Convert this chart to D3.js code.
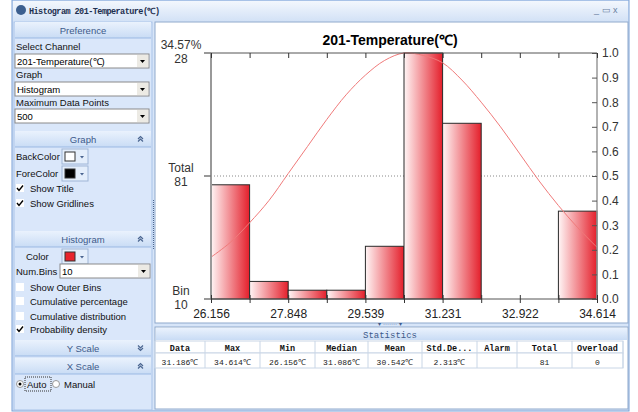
<!DOCTYPE html>
<html>
<head>
<meta charset="utf-8">
<script src="https://d3js.org/d3.v7.min.js"></script>
<style>
  body { margin: 0; background: #fff; }
  text { font-family: "Liberation Sans", Arial, sans-serif; }
</style>
</head>
<body>
<svg id="win" width="638" height="412"></svg>
<script>
// ---- data ----
const xMin = 26.156, xMax = 34.614;
const numBins = 10;
const xTickLabels = ['26.156', '27.848', '29.539', '31.231', '32.922', '34.614'];
const binCounts = [13, 2, 1, 1, 6, 28, 20, 0, 0, 10];
const maxCount = 28;
// probability density curve, normalised, sampled every half bin
const curveValues = [0.17, 0.23, 0.31, 0.40, 0.51, 0.62, 0.73, 0.83, 0.91, 0.97, 1.00,
                     0.99, 0.96, 0.89, 0.80, 0.70, 0.59, 0.48, 0.38, 0.29, 0.21];
const leftLabels = [
  { v: 0, top: 'Bin', bottom: '10' },
  { v: 0.5, top: 'Total', bottom: '81' },
  { v: 1, top: '34.57%', bottom: '28' }
];
const statHeaders = ['Data', 'Max', 'Min', 'Median', 'Mean', 'Std.De...', 'Alarm', 'Total', 'Overload'];
const statValues = ['31.186℃', '34.614℃', '26.156℃', '31.086℃', '30.542℃', '2.313℃', '', '81', '0'];

const svg = d3.select('#win');

// ---- window chrome ----
const defs = svg.append('defs');
function vGrad(id, c1, c2) {
  const g = defs.append('linearGradient').attr('id', id)
    .attr('x1', 0).attr('y1', 0).attr('x2', 0).attr('y2', 1);
  g.append('stop').attr('offset', '0%').attr('stop-color', c1);
  g.append('stop').attr('offset', '100%').attr('stop-color', c2);
}
vGrad('titleG', '#f3f7fd', '#d3e2f6');
vGrad('headG', '#eaf2fd', '#c9dcf5');
const barG = defs.append('linearGradient').attr('id', 'barG');
barG.append('stop').attr('offset', '0%').attr('stop-color', '#fff6f6');
barG.append('stop').attr('offset', '100%').attr('stop-color', '#e41f2b');

svg.append('rect').attr('x', 12).attr('y', 0).attr('width', 617).attr('height', 411)
  .attr('fill', '#d7e5f8').attr('stroke', '#7aa0d6');
svg.append('rect').attr('x', 13).attr('y', 1).attr('width', 615).attr('height', 20)
  .attr('fill', 'url(#titleG)');
svg.append('circle').attr('cx', 21).attr('cy', 10).attr('r', 5).attr('fill', '#3c5f8f');
svg.append('text').attr('x', 29).attr('y', 13.5)
  .style('font-family', '"Liberation Mono", monospace').style('font-weight', 'bold')
  .style('font-size', '8.5px').attr('fill', '#1e3050').attr('textLength', 131)
  .text('Histogram 201-Temperature(℃)');
svg.append('text').attr('x', 594).attr('y', 13).style('font-size', '9px').attr('fill', '#6a7f9f')
  .text('_   ▭   x');

// left panel
const panel = svg.append('g');
panel.append('rect').attr('x', 14).attr('y', 22).attr('width', 138).attr('height', 388)
  .attr('fill', '#dae7fa').attr('stroke', '#a9c3e8');

function header(y, label, up) {
  panel.append('rect').attr('x', 15).attr('y', y).attr('width', 136).attr('height', 16)
    .attr('fill', 'url(#headG)');
  panel.append('line').attr('x1', 15).attr('x2', 151).attr('y1', y + 16).attr('y2', y + 16)
    .attr('stroke', '#9bb9e3');
  panel.append('text').attr('x', 83).attr('y', y + 11.5).attr('text-anchor', 'middle')
    .style('font-size', '9.5px').attr('fill', '#3d5a8a').text(label);
  if (up !== undefined) {
    const cy = y + 8, s = up ? -1 : 1;
    panel.append('path')
      .attr('d', `M138,${cy - s * 2.5}l2.5,${s * 2.5}l2.5,${-s * 2.5}M138,${cy}l2.5,${s * 2.5}l2.5,${-s * 2.5}`)
      .attr('fill', 'none').attr('stroke', '#4a6590').attr('stroke-width', 1.2);
  }
}
function label(x, y, t) {
  panel.append('text').attr('x', x).attr('y', y + 3.5).style('font-size', '9.5px')
    .attr('fill', '#111').text(t);
}
function combo(x, y, w, t) {
  panel.append('rect').attr('x', x).attr('y', y).attr('width', w).attr('height', 14)
    .attr('fill', '#fff').attr('stroke', '#8a8a8a');
  panel.append('rect').attr('x', x + w - 12).attr('y', y + 1).attr('width', 11).attr('height', 12)
    .attr('fill', '#eceae4');
  panel.append('path').attr('d', `M${x + w - 9},${y + 6}h5l-2.5,3z`).attr('fill', '#000');
  panel.append('text').attr('x', x + 2).attr('y', y + 10.5).style('font-size', '9.5px')
    .attr('fill', '#000').text(t);
}
function colorBtn(y, c) {
  panel.append('rect').attr('x', 62).attr('y', y).attr('width', 26).attr('height', 15)
    .attr('fill', '#e4eefb').attr('stroke', '#9fb6d6');
  panel.append('rect').attr('x', 65).attr('y', y + 3).attr('width', 10).attr('height', 9)
    .attr('fill', c).attr('stroke', '#333');
  panel.append('path').attr('d', `M80,${y + 7}h4l-2,2.5z`).attr('fill', '#4a6590');
}
function check(y, t, on) {
  panel.append('rect').attr('x', 16).attr('y', y - 4).attr('width', 8).attr('height', 8)
    .attr('fill', '#fff');
  if (on) panel.append('path').attr('d', `M17,${y}l2,2.5l4,-5`).attr('fill', 'none')
    .attr('stroke', '#000').attr('stroke-width', 1.4);
  label(30, y, t);
}

header(22, 'Preference');
label(16, 46, 'Select Channel');
combo(15, 54, 134, '201-Temperature(℃)');
label(16, 74, 'Graph');
combo(15, 82, 134, 'Histogram');
label(16, 102, 'Maximum Data Points');
combo(15, 109, 134, '500');
header(131, 'Graph', true);
label(16, 156, 'BackColor');
colorBtn(149, '#fff');
label(16, 173, 'ForeColor');
colorBtn(166, '#000');
check(188, 'Show Title', true);
check(203, 'Show Gridlines', true);
header(231, 'Histogram', true);
label(26, 256, 'Color');
colorBtn(249, '#e8242c');
label(16, 271, 'Num.Bins');
combo(60, 264, 90, '10');
check(287, 'Show Outer Bins', false);
check(301, 'Cumulative percentage', false);
check(316, 'Cumulative distribution', false);
check(329, 'Probability density', true);
header(340, 'Y Scale', false);
header(358, 'X Scale', true);
panel.append('circle').attr('cx', 20).attr('cy', 384).attr('r', 3.5).attr('fill', '#fff').attr('stroke', '#999');
panel.append('circle').attr('cx', 20).attr('cy', 384).attr('r', 1.5).attr('fill', '#000');
panel.append('rect').attr('x', 25).attr('y', 377).attr('width', 26).attr('height', 14)
  .attr('fill', 'none').attr('stroke', '#333').attr('stroke-dasharray', '1,1');
label(27, 384, 'Auto');
panel.append('circle').attr('cx', 56).attr('cy', 384).attr('r', 3.5).attr('fill', '#fff').attr('stroke', '#999');
label(64, 384, 'Manual');

// vertical splitter grip
svg.append('line').attr('x1', 153.5).attr('x2', 153.5).attr('y1', 200).attr('y2', 250)
  .attr('stroke', '#4a6590').attr('stroke-dasharray', '1,1');

// chart area
svg.append('rect').attr('x', 155).attr('y', 22).attr('width', 473).attr('height', 301)
  .attr('fill', '#fff').attr('stroke', '#8fa9cc');
svg.append('text').attr('x', 390).attr('y', 326).attr('text-anchor', 'middle')
  .style('font-size', '6px').attr('fill', '#3d5a8a').text('▾ ······· ▾');

// statistics area
svg.append('rect').attr('x', 155).attr('y', 327).attr('width', 473).attr('height', 82)
  .attr('fill', '#fff').attr('stroke', '#8fa9cc');
svg.append('rect').attr('x', 156).attr('y', 328).attr('width', 471).attr('height', 12)
  .attr('fill', 'url(#headG)');
svg.append('text').attr('x', 390).attr('y', 337.5).attr('text-anchor', 'middle')
  .style('font-family', '"Liberation Mono", monospace').style('font-size', '9px')
  .attr('fill', '#3d5a8a').text('Statistics');

const colEdges = [155, 205, 260, 315, 368, 422, 477, 517, 572, 623];
const tbl = svg.append('g');
tbl.append('rect').attr('x', 155).attr('y', 341).attr('width', 468).attr('height', 12)
  .attr('fill', '#fff').attr('stroke', '#c9d6e6');
tbl.append('rect').attr('x', 155).attr('y', 353).attr('width', 468).attr('height', 15)
  .attr('fill', '#fff').attr('stroke', '#c9d6e6');
tbl.selectAll('line.col').data(colEdges).enter().append('line')
  .attr('x1', d => d).attr('x2', d => d).attr('y1', 341).attr('y2', 368)
  .attr('stroke', '#c9d6e6');
tbl.selectAll('text.h').data(statHeaders).enter().append('text')
  .attr('x', (d, i) => (colEdges[i] + colEdges[i + 1]) / 2).attr('y', 350.5)
  .attr('text-anchor', 'middle')
  .style('font-family', '"Liberation Mono", monospace').style('font-weight', 'bold')
  .style('font-size', '8.5px').attr('fill', '#111').text(d => d);
tbl.selectAll('text.v').data(statValues).enter().append('text')
  .attr('x', (d, i) => (colEdges[i] + colEdges[i + 1]) / 2).attr('y', 364.5)
  .attr('text-anchor', 'middle')
  .style('font-family', '"Liberation Mono", monospace')
  .style('font-size', '8px').attr('fill', '#222').text(d => d);

// ---- histogram ----
const pLeft = 211, pRight = 597, pTop = 53, pBottom = 299;
const x = d3.scaleLinear().domain([xMin, xMax]).range([pLeft, pRight]);
const yCount = d3.scaleLinear().domain([0, maxCount]).range([pBottom, pTop]);
const yRel = d3.scaleLinear().domain([0, 1]).range([pBottom, pTop]);
const binW = (xMax - xMin) / numBins;
const edges = d3.range(numBins + 1).map(i => xMin + i * binW);

const g = svg.append('g');
g.append('text').attr('x', 390).attr('y', 45).attr('text-anchor', 'middle')
  .style('font-size', '14px').style('font-weight', 'bold').attr('fill', '#000')
  .text('201-Temperature(℃)');

// dotted half line
g.append('line').attr('x1', pLeft).attr('x2', pRight).attr('y1', yRel(0.5)).attr('y2', yRel(0.5))
  .attr('stroke', '#888').attr('stroke-dasharray', '1,2');

// bars
g.selectAll('rect.bar').data(binCounts).enter().append('rect')
  .attr('x', (d, i) => x(edges[i]))
  .attr('width', (d, i) => x(edges[i + 1]) - x(edges[i]))
  .attr('y', d => yCount(d))
  .attr('height', d => pBottom - yCount(d))
  .attr('fill', 'url(#barG)')
  .attr('stroke', d => d > 0 ? '#2a2a2a' : 'none');

// density curve
const line = d3.line()
  .x((d, i) => x(xMin + i * binW / 2))
  .y(d => yRel(d))
  .curve(d3.curveCatmullRom);
g.append('path').datum(curveValues).attr('d', line)
  .attr('fill', 'none').attr('stroke', '#f07a7a').attr('stroke-width', 1);

// frame lines
g.append('line').attr('x1', pLeft).attr('x2', pRight).attr('y1', pTop).attr('y2', pTop)
  .attr('stroke', '#555');
g.append('line').attr('x1', pLeft).attr('x2', pRight).attr('y1', pBottom).attr('y2', pBottom)
  .attr('stroke', '#555');
g.append('line').attr('x1', pLeft).attr('x2', pLeft).attr('y1', pTop).attr('y2', pBottom)
  .attr('stroke', '#999').attr('stroke-width', 2);
g.append('line').attr('x1', pRight).attr('x2', pRight).attr('y1', pTop).attr('y2', pBottom)
  .attr('stroke', '#999').attr('stroke-width', 1.5);

// x axis (bottom) and top ticks
const xAxis = d3.axisBottom(x).tickValues(edges).tickSize(4)
  .tickFormat((d, i) => i % 2 === 0 ? xTickLabels[i / 2] : '');
const xg = g.append('g').attr('transform', `translate(0,${pBottom})`).call(xAxis);
xg.select('.domain').remove();
xg.selectAll('.tick line').attr('y1', -4).attr('stroke', '#333');
xg.selectAll('.tick text').attr('y', 10).style('font-size', '12px')
  .style('font-family', '"Liberation Sans", Arial, sans-serif').attr('fill', '#222');

const topAxis = d3.axisBottom(x).tickValues(edges).tickSize(5).tickFormat('');
const tg = g.append('g').attr('transform', `translate(0,${pTop})`).call(topAxis);
tg.select('.domain').remove();
tg.selectAll('.tick line').attr('stroke', '#333');

// right axis
const rAxis = d3.axisLeft(yRel).ticks(10).tickSize(5).tickFormat(d3.format('.1f'));
const rg = g.append('g').attr('transform', `translate(${pRight},0)`).call(rAxis);
rg.select('.domain').remove();
rg.selectAll('.tick line').attr('stroke', '#555');
rg.selectAll('.tick text').attr('x', 5).attr('text-anchor', 'start')
  .style('font-size', '12px').style('font-family', '"Liberation Sans", Arial, sans-serif')
  .attr('fill', '#333');

// left axis labels
const lg = g.append('g').selectAll('g').data(leftLabels).enter().append('g')
  .attr('transform', d => `translate(${pLeft},${yRel(d.v)})`);
lg.append('line').attr('x1', -7).attr('x2', 0).attr('stroke', '#777').attr('stroke-width', 1.5);
lg.append('text').attr('x', -30).attr('y', -4).attr('text-anchor', 'middle')
  .style('font-size', '12px').attr('fill', '#333').text(d => d.top);
lg.append('text').attr('x', -30).attr('y', 10).attr('text-anchor', 'middle')
  .style('font-size', '12px').attr('fill', '#333').text(d => d.bottom);
</script>
</body>
</html>
